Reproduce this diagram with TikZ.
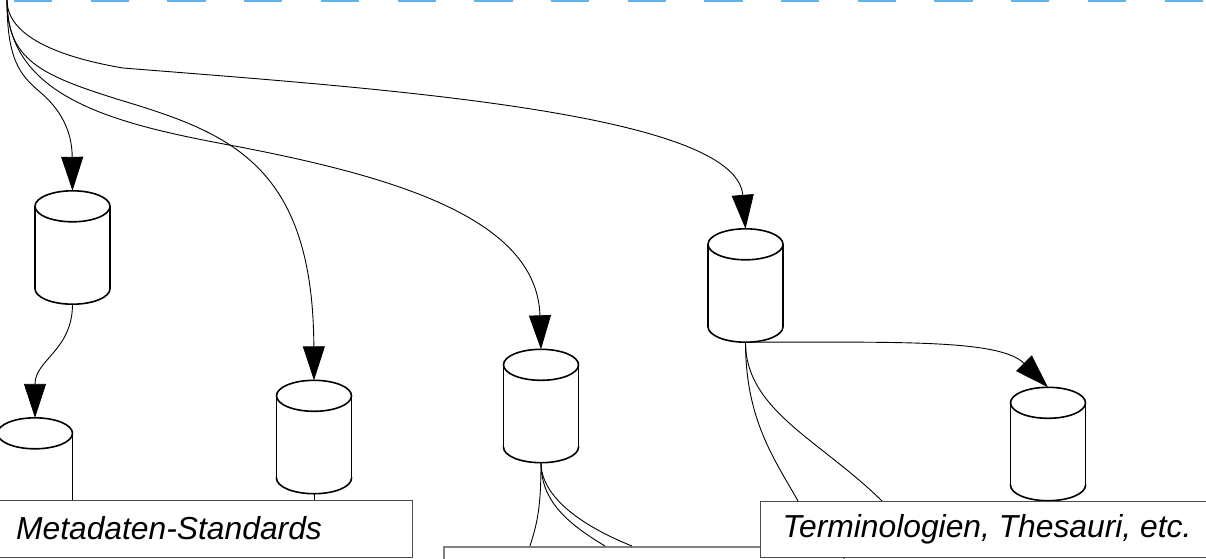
\documentclass[tikz,border=0pt]{standalone}
\usepackage{fontspec}
\setmainfont{Liberation Sans}
\usepackage{tikz}
\usetikzlibrary{arrows.meta}
\usetikzlibrary{calc}
\definecolor{clusterblue}{RGB}{95,180,240}

\begin{document}
\begin{tikzpicture}[
    x=1pt, y=-1pt,
    store/.style={rectangle, minimum width=76pt, minimum height=113pt, inner sep=0pt},
    store line/.style={draw=black, line width=1.6pt},
    label box/.style={draw=black!70, fill=white, line width=0.9pt,
        font=\fontsize{31.8}{38}\selectfont\itshape, inner sep=0pt},
    link/.style={line width=0.9pt},
    arrow link/.style={link, -{Triangle[length=34pt,width=22pt]}},
    cluster line/.style={draw=clusterblue, line width=2pt, dash pattern=on 38.3pt off 38.4pt},
    ]
    \useasboundingbox (0,0) rectangle (1206,558);
    \clip (0,0) rectangle (1206,558);

    % cluster border and source
    \draw[cluster line] (14,1.2) -- (1230,1.2);
    \coordinate (src) at (7,0);
    % stores (cylinders)
    \foreach \name/\x/\y in {db1/72.5/247.5, db2/35/474.5, db3/314/437,
                            db4/541/406, db5/745.5/285.5, db6/1048/444} {
        \node[store] (\name) at (\x,\y) {};
        \coordinate (top) at ($(\name.north)+(0,15.5)$);
        \coordinate (bot) at ($(\name.south)+(0,-15.5)$);
        \draw[store line, fill=white] (bot) ellipse [x radius=37.5pt, y radius=15.5pt];
        \fill[white] ($(top)+(-37.5,0)$) rectangle ($(bot)+(37.5,0)$);
        \draw[store line] ($(top)+(-37.5,0)$) -- ($(bot)+(-37.5,0)$)
                          ($(top)+(37.5,0)$) -- ($(bot)+(37.5,0)$);
        \draw[store line, fill=white] (top) ellipse [x radius=37.5pt, y radius=15.5pt];
    }
    % boxes
    \node[label box, draw=black!50, line width=1.6pt, anchor=north west,
        minimum width=400pt, minimum height=57pt] (misc) at (443,546) {};
    \node[label box, minimum width=486pt, minimum height=57pt] (meta) at (169,528.5)
        {Metadaten-Standards};
    \node[label box, minimum width=454pt, minimum height=56pt] (term) at (987,529)
        {Terminologien, Thesauri, etc.};
    % ends on the box tops
    \coordinate (m1) at (530,546); \coordinate (m2) at (605,546);
    \coordinate (m3) at (632,546);
    \coordinate (t1) at (798,501); \coordinate (t2) at (882,501);

    % from the source
    \draw[arrow link] (src) .. controls (7,60) and (20,75) .. (40,92)
        .. controls (60,109) and (72,130) .. (db1.north);
    \draw[arrow link] (src) .. controls (7,60) and (40,75) .. (120,100)
        .. controls (230,133) and (313,165) .. (db3.north);
    \draw[arrow link] (src) .. controls (7,100) and (120,125) .. (240,147)
        .. controls (400,178) and (537,220) .. (db4.north);
    \draw[arrow link] (src) .. controls (7,40) and (70,59) .. (123,68)
        .. controls (373,88) and (736,112) .. (db5.north);
    % between stores
    \draw[arrow link] (db1.south) .. controls +(0,46) and +(0,-58) .. (db2.north);
    \draw[arrow link] (db5.south) .. controls +(155,0) and +(-48,-48) .. (db6.north);
    % into the boxes
    \draw[link] (db3.south) -- (db3.south |- meta.north);
    \draw[link] (db4.south) .. controls +(0,50) and +(6,-20) .. (m1);
    \draw[link] (db4.south) .. controls +(0,37) and +(-40,-24) .. (m2);
    \draw[link] (db4.south) .. controls +(0,32) and +(-55,-22) .. (m3);
    \draw[link] (db5.south) .. controls +(0,78) and +(-23,-41) .. (t1);
    \draw[link] (db5.south) .. controls +(0,68) and +(-62,-61) .. (t2);
\end{tikzpicture}
\end{document}
